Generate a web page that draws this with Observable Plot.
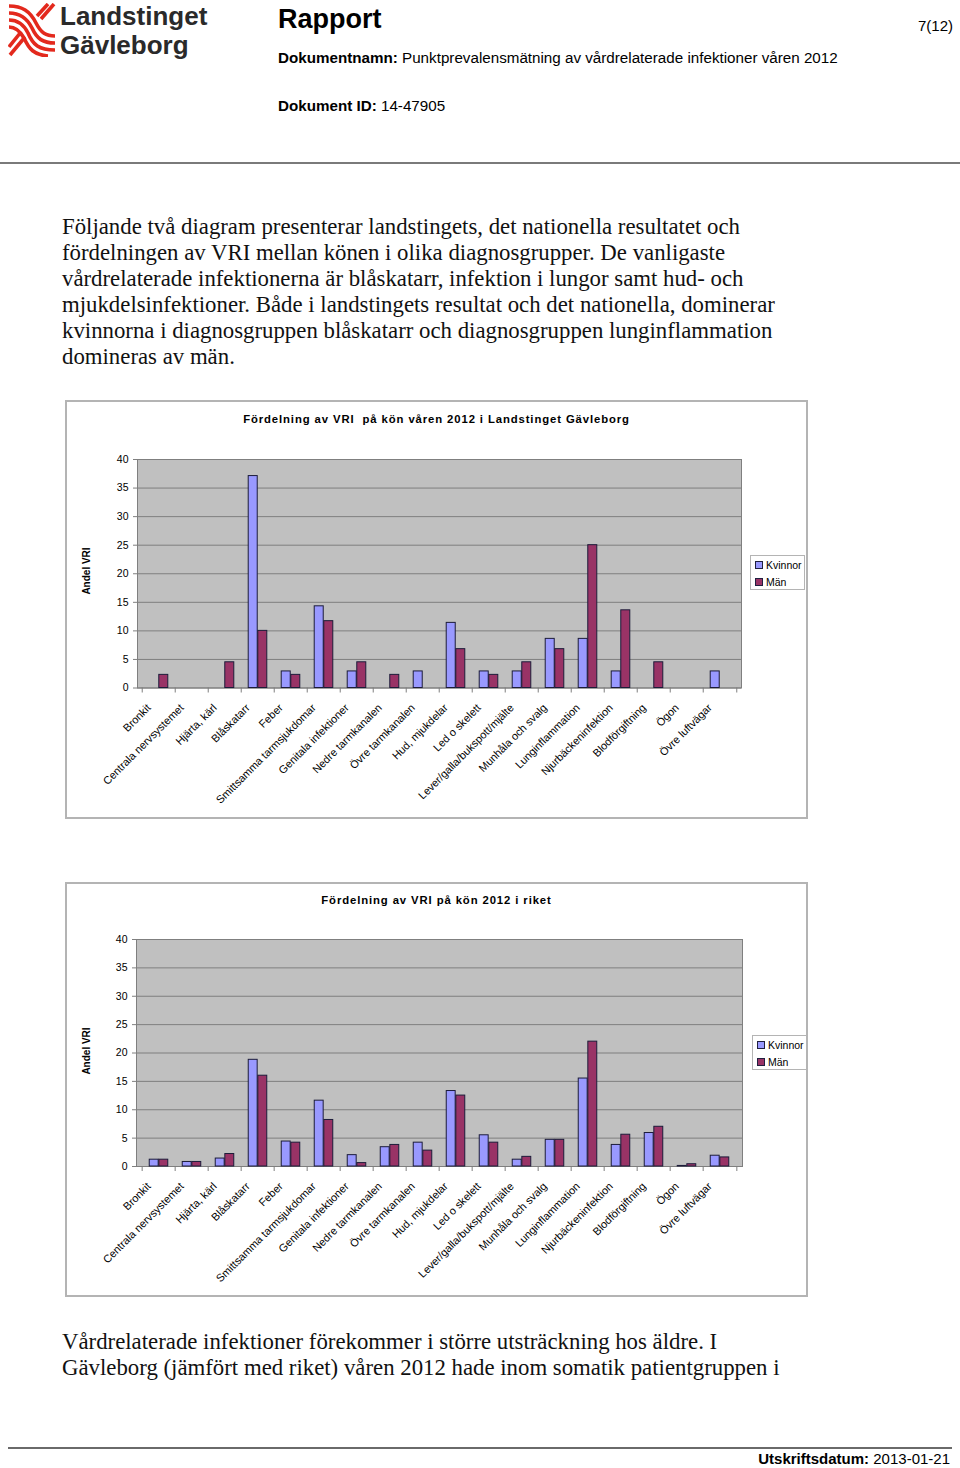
<!DOCTYPE html>
<html><head><meta charset="utf-8">
<script src="https://cdn.jsdelivr.net/npm/d3@7"></script>
<script src="https://cdn.jsdelivr.net/npm/@observablehq/plot@0.6"></script>
<style>
body{margin:0;background:#fff;}
#page{position:relative;width:960px;height:1468px;overflow:hidden;font-family:"Liberation Sans",Arial,sans-serif;color:#000;}
.abs{position:absolute;white-space:nowrap;}
.serif{font-family:"Liberation Serif","Times New Roman",serif;font-size:22.8px;line-height:26px;color:#111;}
.chart{position:absolute;}
.chart .border{position:absolute;left:0;top:0;right:0;bottom:0;border:2px solid #b4b4b4;box-sizing:border-box;}
.chart svg{position:absolute;left:0;top:0;}
.ctitle{position:absolute;left:0;right:0;text-align:center;font-weight:bold;font-size:11.3px;letter-spacing:0.9px;}
.ylab{position:absolute;font-weight:bold;font-size:10px;transform:translate(-50%,-50%) rotate(-90deg);white-space:nowrap;}
.legend{position:absolute;width:55px;height:35px;border:1px solid #b4b4b4;box-sizing:border-box;background:#fff;font-size:10.5px;}
.legend .it{position:absolute;left:4px;white-space:nowrap;}
.legend .sw{display:inline-block;width:6px;height:6px;border:1px solid #202040;margin-right:3px;vertical-align:0px;}
</style></head><body><div id="page">

<svg class="abs" style="left:8px;top:3px" width="48" height="54" viewBox="0 0 48 54">
 <g fill="none" stroke="#e3291d" stroke-width="3.6" stroke-linecap="butt">
  <path d="M1,3 C14,3 22,8 28,20 C33,30 38,33 47,33"/>
  <path d="M1,10 C12,10 19,15 24,25 C29,36 35,40 47,40"/>
  <path d="M1,17 C10,17 16,22 20,30 C25,42 31,47 47,47"/>
  <path d="M1,24 C8,24 12,28 16,35 C21,46 26,52 40,53"/>
  <path d="M46,1 L33,16"/>
  <path d="M40,1 L29,13"/>
  <path d="M17,34 L2,52"/>
  <path d="M13,29 L1,44"/>
 </g>
</svg>
<div class="abs" style="left:60px;top:2px;font-size:26px;font-weight:bold;color:#2a2a2a;line-height:29px;">Landstinget<br>Gävleborg</div>

<div class="abs" style="left:278px;top:4px;font-size:27px;font-weight:bold;">Rapport</div>
<div class="abs" style="left:918px;top:17px;font-size:15px;">7(12)</div>
<div class="abs" style="left:278px;top:49px;font-size:15.2px;"><b>Dokumentnamn:</b> Punktprevalensmätning av vårdrelaterade infektioner våren 2012</div>
<div class="abs" style="left:278px;top:97px;font-size:15.2px;"><b>Dokument ID:</b> 14-47905</div>
<div class="abs" style="left:0;top:162px;width:960px;height:2px;background:#7a7a7a;"></div>

<div class="abs serif" style="left:62px;top:214px;">Följande två diagram presenterar landstingets, det nationella resultatet och<br>fördelningen av VRI mellan könen i olika diagnosgrupper. De vanligaste<br>vårdrelaterade infektionerna är blåskatarr, infektion i lungor samt hud- och<br>mjukdelsinfektioner. Både i landstingets resultat och det nationella, dominerar<br>kvinnorna i diagnosgruppen blåskatarr och diagnosgruppen lunginflammation<br>domineras av män.</div>

<div id="c1" class="chart" style="left:65px;top:400px;width:743px;height:419px;">
 <div class="border"></div>
 <div class="ctitle" style="top:13px;">Fördelning av VRI&nbsp; på kön våren 2012 i Landstinget Gävleborg</div>
 <div class="ylab" style="left:21px;top:171px;">Andel VRI</div>
</div>

<div id="c2" class="chart" style="left:65px;top:882px;width:743px;height:415px;">
 <div class="border"></div>
 <div class="ctitle" style="top:12px;">Fördelning av VRI på kön 2012 i riket</div>
 <div class="ylab" style="left:21px;top:169px;">Andel VRI</div>
</div>

<div class="abs serif" style="left:62px;top:1329px;">Vårdrelaterade infektioner förekommer i större utsträckning hos äldre. I<br>Gävleborg (jämfört med riket) våren 2012 hade inom somatik patientgruppen i</div>

<div class="abs" style="left:8px;top:1447px;width:944px;height:2px;background:#6a6a6a;"></div>
<div class="abs" style="right:10px;top:1450px;font-size:15px;"><b>Utskriftsdatum:</b> 2013-01-21</div>

</div>
<script>
const categories = ["Bronkit","Centrala nervsystemet","Hjärta, kärl","Blåskatarr","Feber","Smittsamma tarmsjukdomar","Genitala infektioner","Nedre tarmkanalen","Övre tarmkanalen","Hud, mjukdelar","Led o skelett","Lever/galla/bukspott/mjälte","Munhåla och svalg","Lunginflammation","Njurbäckeninfektion","Blodförgiftning","Ögon","Övre luftvägar"];
const seriesNames = ["Kvinnor","Män"];
const seriesColors = ["#9999ff","#993366"];
const gavleborgKvinnor = [0,0,0,37.1,2.9,14.3,2.9,0,2.9,11.4,2.9,2.9,8.6,8.6,2.9,0,0,2.9];
const gavleborgMan     = [2.3,0,4.5,10.0,2.3,11.7,4.5,2.3,0,6.8,2.3,4.5,6.8,25.0,13.6,4.5,0,0];
const riketKvinnor = [1.2,0.8,1.4,18.8,4.4,11.6,2.0,3.4,4.2,13.3,5.5,1.2,4.7,15.5,3.8,5.9,0.1,1.9];
const riketMan     = [1.2,0.8,2.2,16.0,4.2,8.2,0.6,3.8,2.8,12.5,4.2,1.7,4.7,22.0,5.6,7.0,0.4,1.6];
const yTicks = [0,5,10,15,20,25,30,35,40];

function makeChart(kv, man, dims) {
  const rows = categories.flatMap((c, i) => [
    {category: c, series: seriesNames[0], value: kv[i]},
    {category: c, series: seriesNames[1], value: man[i]}
  ]);
  const plotW = dims.width - dims.marginLeft - dims.marginRight;
  const bw = plotW / categories.length;
  const barW = bw * 0.285;
  const bar = (s, k, left, right) => Plot.barY(rows.filter(d => d.series === s && d.value > 0), {
    x: "category", y: "value", fill: seriesColors[k], stroke: "#1c1c3a", strokeWidth: 1,
    insetLeft: left, insetRight: right
  });
  return Plot.plot({
    width: dims.width, height: dims.height,
    marginLeft: dims.marginLeft, marginRight: dims.marginRight,
    marginTop: dims.marginTop, marginBottom: dims.marginBottom,
    style: {fontFamily: "'Liberation Sans', Arial, sans-serif", fontSize: "11px", color: "#000", background: "transparent", overflow: "visible"},
    x: {type: "band", domain: categories, padding: 0, label: null},
    y: {domain: [0, 40], label: null},
    marks: [
      Plot.frame({fill: "#c0c0c0", stroke: null}),
      Plot.gridY(yTicks, {stroke: "#7f7f7f", strokeOpacity: 1}),
      Plot.frame({stroke: "#7f7f7f"}),
      bar(seriesNames[0], 0, bw / 2 - barW, bw / 2),
      bar(seriesNames[1], 1, bw / 2, bw / 2 - barW),
      Plot.axisY(yTicks, {tickSize: 4, tickPadding: 5, stroke: "#7f7f7f", fill: "#000", fontSize: 10.5, label: null}),
      Plot.axisX({tickSize: 0, tickRotate: -45, tickPadding: 15, dx: -10, dy: 3, fill: "#000", fontSize: 10.9, label: null}),
      Plot.ruleX(categories, {x: d => d, dx: -bw / 2, y1: 0, y2: 0, insetTop: 5, stroke: "#7f7f7f"}),
      Plot.ruleX(categories.slice(-1), {x: d => d, dx: bw / 2, y1: 0, y2: 0, insetTop: 5, stroke: "#7f7f7f"})
    ]
  });
}

function legend(container, left, top) {
  const box = document.createElement("div");
  box.className = "legend";
  box.style.left = left + "px"; box.style.top = top + "px";
  seriesNames.forEach((s, k) => {
    const it = document.createElement("div");
    it.className = "it";
    it.style.top = (3 + k * 17) + "px";
    it.innerHTML = `<span class="sw" style="background:${seriesColors[k]}"></span>${s}`;
    box.appendChild(it);
  });
  container.appendChild(box);
}

const c1 = document.getElementById("c1");
c1.insertBefore(makeChart(gavleborgKvinnor, gavleborgMan, {width: 743, height: 419, marginLeft: 72, marginRight: 67, marginTop: 59, marginBottom: 131.5}), c1.children[1]);
legend(c1, 685, 155);

const c2 = document.getElementById("c2");
c2.insertBefore(makeChart(riketKvinnor, riketMan, {width: 743, height: 415, marginLeft: 71, marginRight: 66, marginTop: 57, marginBottom: 131}), c2.children[1]);
legend(c2, 687, 153);
</script>
</body></html>
